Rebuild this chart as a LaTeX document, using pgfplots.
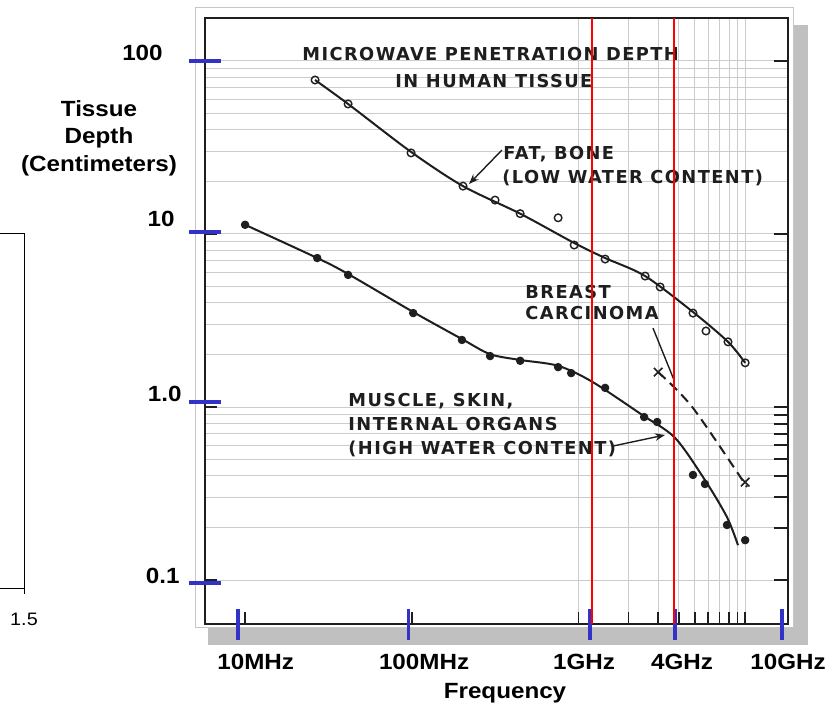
\documentclass[border=0pt]{standalone}
\usepackage{fontspec}
\setmainfont{Liberation Sans}
\newfontfamily\scanfont[LetterSpace=8]{DejaVu Sans Bold}
\usepackage{pgfplots}
\pgfplotsset{compat=1.18}
\usetikzlibrary{arrows.meta}
\definecolor{blueov}{RGB}{50,50,200}
\definecolor{shadow}{RGB}{192,192,192}
\definecolor{ink}{RGB}{30,30,30}
\tikzset{scan/.style={font=\scanfont\fontsize{8.9}{10}\selectfont, text=ink, inner sep=0pt, anchor=base west}}
\begin{document}
\begin{tikzpicture}
% page frame, shadow and the cut-off neighbour panel (1 unit = 1 px)
\begin{scope}[x=0.5pt,y=-0.5pt]
  \useasboundingbox (0,0) rectangle (839,705);
  \fill[shadow] (208,25) rectangle (808,645);
  \filldraw[fill=white, draw=gray!45, line width=0.5pt] (195,7) rectangle (793,627);
  \draw[line width=0.5pt] (0,233) -- (24,233) -- (24,594);
  \draw[line width=0.5pt] (0,588) -- (24,588);
  \node[font=\fontsize{9}{10}\selectfont, xscale=1.1, anchor=base, inner sep=0pt] at (24,625) {1.5};
\end{scope}

\begin{axis}[
    at={(102.5pt,-312pt)}, anchor=south west,
    scale only axis, width=291.5pt, height=303pt,
    xmode=log, ymode=log,
    xmin=5.75, xmax=18070, ymin=0.0557, ymax=177,
    clip=false,
    axis line style={line width=1.1pt, ink},
    tick align=inside,
    xtick pos=bottom, ytick pos=left,
    xtick={1000,2000,3000,4000,5000,6000,7000,8000,9000,10000},
    ytick={0.1,1,10,100},
    minor ytick={0.2,0.3,0.4,0.5,0.6,0.7,0.8,0.9,2,3,4,5,6,7,8,9,20,30,40,50,60,70,80,90},
    xticklabels={}, yticklabels={},
    major tick length=6pt, minor tick length=0pt,
    major tick style={line width=0.8pt, ink},
    xmajorgrids, ymajorgrids, yminorgrids,
    major grid style={line width=0.5pt, gray!40},
    minor grid style={line width=0.5pt, gray!40},
    extra x ticks={9.08,95.1,1174,3798,16650},
    extra x tick labels={\hspace*{16pt}10MHz, \hspace*{14.5pt}100MHz, 1GHz\hspace*{5.5pt}, \hspace*{6.4pt}4GHz, \hspace*{5.5pt}10GHz},
    extra x tick style={grid=none, tick align=center, major tick length=15.5pt,
        major tick style={line width=1.6pt, blueov}},
    extra y ticks={0.0961,1.069,10.27,100},
    extra y tick labels={0.1\hspace*{0.9pt}, 1.0, \raisebox{2.5pt}{10}\hspace*{3.2pt}, 100\hspace*{8.6pt}},
    extra y tick style={grid=none, tick align=center, major tick length=16pt,
        major tick style={line width=1.6pt, blueov}},
    xticklabel style={font=\bfseries\fontsize{11}{13}\selectfont, inner sep=0pt, anchor=base, yshift=-15pt, xscale=1.1},
    yticklabel style={font=\bfseries\fontsize{11}{13}\selectfont, inner sep=0pt, anchor=base east, xshift=-3.5pt, yshift=0pt, xscale=1.1},
    every axis x label/.style={at={(axis description cs:0.5146,-0.1221)}, anchor=base,
        font=\bfseries\fontsize{11}{13}\selectfont, xscale=1.1},
    every axis y label/.style={at={(axis description cs:-0.1818,0.802)}, anchor=center, align=center,
        font=\bfseries\fontsize{11}{13.75}\selectfont, xscale=1.1},
    xlabel={Frequency},
    ylabel={Tissue\\Depth\\(Centimeters)},
]

% fat, bone
\addplot[ink, line width=1pt, smooth] coordinates {
    (26.3,77.6) (41.5,56.4) (99,29.8) (203,18.9) (447,13.1) (942,8.87)
    (1445,7.26) (2512,5.71) (4864,3.54) (7889,2.38) (10000,1.80)
};
\addplot[only marks, mark=o, mark size=1.9pt, mark options={line width=0.7pt, ink}] coordinates {
    (26.3,77.6) (41.5,56.4) (99,29.4) (203,18.9) (316,15.7) (447,13.1) (755,12.4)
    (942,8.63) (1445,7.16) (2512,5.71) (3090,4.94) (4864,3.49) (5821,2.75)
    (7889,2.38) (10000,1.80)
};

% muscle, skin, internal organs
\addplot[ink, line width=1pt, smooth] coordinates {
    (10,11.3) (27.1,7.26) (41.5,5.87) (102,3.54) (200,2.47) (295,2.02) (447,1.87)
    (755,1.73) (1208,1.40) (2410,0.90) (3802,0.662) (5741,0.378) (7780,0.231) (9060,0.159)
};
\addplot[only marks, mark=*, mark size=1.9pt, ink] coordinates {
    (10,11.3) (27.1,7.26) (41.5,5.80) (102,3.49) (200,2.44) (295,1.97) (447,1.85)
    (755,1.70) (904,1.57) (1445,1.29) (2477,0.875) (2965,0.819) (4864,0.405)
    (5741,0.359) (7780,0.208) (10000,0.170)
};

% breast carcinoma
\addplot[ink, line width=1pt, dash pattern=on 5pt off 3pt, smooth] coordinates {
    (3008,1.59) (4864,0.987) (10250,0.345)
};
\addplot[only marks, mark=x, mark size=3pt, mark options={line width=0.8pt, ink}] coordinates {
    (3008,1.59) (10000,0.368)
};

% right-hand and bottom ticks of the scanned chart
\pgfplotsinvokeforeach{100,10,1,0.9,0.8,0.7,0.6,0.5,0.4,0.3,0.2,0.1}{
    \draw[ink, line width=1pt] (axis cs:18070,#1) -- ++(-7pt,0pt);
}
\pgfplotsinvokeforeach{10,100}{
    \draw[ink, line width=0.8pt] (axis cs:#1,0.0557) -- ++(0pt,6pt);
}

% annotations
\node[scan] at (axis description cs:0.1664,0.9299) {MICROWAVE PENETRATION DEPTH};
\node[scan] at (axis description cs:0.3259,0.8853) {IN HUMAN TISSUE};
\node[scan] at (axis description cs:0.5111,0.7665) {FAT, BONE};
\node[scan] at (axis description cs:0.5094,0.7269) {(LOW WATER CONTENT)};
\node[scan] at (axis description cs:0.5489,0.5371) {BREAST};
\node[scan] at (axis description cs:0.5489,0.5025) {CARCINOMA};
\node[scan] at (axis description cs:0.2453,0.3589) {MUSCLE, SKIN,};
\node[scan] at (axis description cs:0.2453,0.3193) {INTERNAL ORGANS};
\node[scan] at (axis description cs:0.2453,0.2797) {(HIGH WATER CONTENT)};
\draw[ink, line width=0.7pt, -{Stealth[length=5pt]}]
    (axis description cs:0.5094,0.7822) -- (axis description cs:0.4528,0.7261);
\draw[ink, line width=0.7pt]
    (axis description cs:0.7684,0.4884) -- (axis description cs:0.8045,0.4026);
\draw[ink, line width=0.7pt, -{Stealth[length=5pt]}]
    (axis description cs:0.6998,0.2937) -- (axis description cs:0.7890,0.3119);

% red markers at 1 GHz and 4 GHz
\addplot[red, line width=0.7pt] coordinates {(1206,0.0557) (1206,177)};
\addplot[red, line width=0.7pt] coordinates {(3746,0.0557) (3746,177)};

\end{axis}
\end{tikzpicture}
\end{document}
